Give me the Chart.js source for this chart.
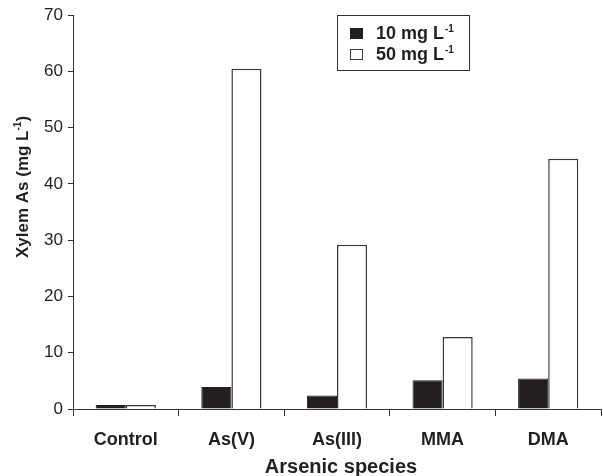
<!DOCTYPE html>
<html>
<head>
<meta charset="utf-8">
<script src="https://cdn.jsdelivr.net/npm/chart.js@4.4.1/dist/chart.umd.min.js"></script>
<style>
  html, body { margin: 0; padding: 0; background: #fff; }
  #wrap { width: 603px; height: 476px; }
</style>
</head>
<body>
<div id="wrap"><canvas id="xylemChart" width="603" height="476"></canvas></div>
<script>
const CATEGORIES = ['Control', 'As(V)', 'As(III)', 'MMA', 'DMA'];
const AS_10 = [0.7, 3.9, 2.4, 5.1, 5.4];
const AS_50 = [0.7, 60.5, 29.2, 12.8, 44.5];
const SERIES_NAMES = ['10 mg L', '50 mg L'];
const UNIT_SUP = '-1';
const Y_MIN = 0;
const Y_MAX = 70;
const Y_STEP = 10;
const X_TITLE = 'Arsenic species';
const Y_TITLE = ['Xylem As (mg L', '-1', ')'];

const INK = '#231f20';
const LINE = '#333333';
const FONT = "'Liberation Sans', Arial, Helvetica, sans-serif";

// legend + axis titles drawn by hand so the superscripts look right
const annotate = {
  id: 'annotate',
  afterDraw(chart) {
    const { ctx, chartArea } = chart;
    ctx.save();
    ctx.fillStyle = INK;
    ctx.textBaseline = 'alphabetic';

    // x title
    ctx.font = 'bold 20px ' + FONT;
    ctx.textAlign = 'center';
    ctx.fillText(X_TITLE, (chartArea.left + chartArea.right) / 2 + 4, 473);

    // y title, rotated, with superscript
    ctx.save();
    ctx.translate(28, 187);
    ctx.rotate(-Math.PI / 2);
    ctx.textAlign = 'left';
    const big = 'bold 17px ' + FONT;
    const small = 'bold 10px ' + FONT;
    ctx.font = big;
    const w1 = ctx.measureText(Y_TITLE[0]).width;
    const w3 = ctx.measureText(Y_TITLE[2]).width;
    ctx.font = small;
    const w2 = ctx.measureText(Y_TITLE[1]).width;
    let x = -(w1 + w2 + w3) / 2;
    ctx.font = big;
    ctx.fillText(Y_TITLE[0], x, 0);
    x += w1;
    ctx.font = small;
    ctx.fillText(Y_TITLE[1], x, -7);
    x += w2;
    ctx.font = big;
    ctx.fillText(Y_TITLE[2], x, 0);
    ctx.restore();

    // legend box
    const legendFont = 'bold 18px ' + FONT;
    ctx.strokeStyle = LINE;
    ctx.lineWidth = 1;
    ctx.strokeRect(337.5, 15.5, 132, 55);
    chart.data.datasets.forEach((ds, i) => {
      const y = 28 + i * 21;
      ctx.fillStyle = ds.backgroundColor;
      ctx.fillRect(350, y, 13, 11);
      ctx.strokeStyle = ds.borderColor;
      ctx.strokeRect(350.5, y + 0.5, 12, 10);
      ctx.fillStyle = INK;
      ctx.font = legendFont;
      ctx.textAlign = 'left';
      ctx.fillText(SERIES_NAMES[i], 376, y + 11);
      const tw = ctx.measureText(SERIES_NAMES[i]).width;
      ctx.font = small;
      ctx.fillText(UNIT_SUP, 376 + tw + 1, y + 4);
    });
    ctx.restore();
  }
};

new Chart(document.getElementById('xylemChart'), {
  type: 'bar',
  data: {
    labels: CATEGORIES,
    datasets: [
      {
        label: SERIES_NAMES[0] + '⁻¹',
        data: AS_10,
        backgroundColor: INK,
        borderColor: INK,
        borderWidth: 1,
        categoryPercentage: 0.57,
        barPercentage: 1.0,
      },
      {
        label: SERIES_NAMES[1] + '⁻¹',
        data: AS_50,
        backgroundColor: '#ffffff',
        borderColor: '#3a3a3a',
        borderWidth: 1.5,
        categoryPercentage: 0.57,
        barPercentage: 1.0,
      }
    ]
  },
  options: {
    responsive: false,
    animation: false,
    devicePixelRatio: 1,
    layout: { padding: { top: 15, right: 2, left: 0, bottom: 0 } },
    plugins: {
      legend: { display: false },
      tooltip: { enabled: false },
    },
    scales: {
      x: {
        grid: { drawOnChartArea: false, tickLength: 7, color: LINE, offset: true },
        border: { color: LINE, width: 1 },
        ticks: {
          color: INK,
          padding: 13,
          font: { family: FONT, size: 18, weight: 'bold' },
        },
        afterFit(scale) { scale.height = 67; },
      },
      y: {
        min: Y_MIN,
        max: Y_MAX,
        grid: { drawOnChartArea: false, tickLength: 5, color: LINE },
        border: { color: LINE, width: 1 },
        ticks: {
          stepSize: Y_STEP,
          color: INK,
          padding: 5,
          font: { family: FONT, size: 17 },
        },
        afterFit(scale) { scale.width = 73; },
      }
    }
  },
  plugins: [annotate]
});
</script>
</body>
</html>
